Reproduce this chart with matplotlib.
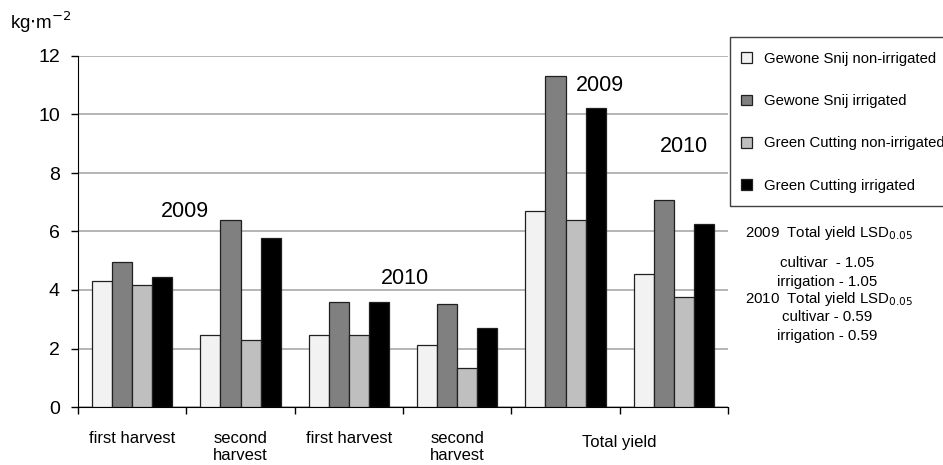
import numpy as np
import matplotlib.pyplot as plt
from matplotlib.ticker import FixedLocator
from matplotlib.patches import Rectangle

plt.rcParams['font.family'] = ['Liberation Sans', 'DejaVu Sans']

# data (kg m-2)
categories = ['first harvest', 'second\nharvest', 'first harvest', 'second\nharvest', '', '']
series_names = ['Gewone Snij non-irrigated', 'Gewone Snij irrigated',
                'Green Cutting non-irrigated', 'Green Cutting irrigated']
gs_nonirr = [4.30, 2.45, 2.45, 2.12, 6.70, 4.53]
gs_irr = [4.96, 6.38, 3.60, 3.52, 11.32, 7.08]
gc_nonirr = [4.18, 2.28, 2.45, 1.33, 6.38, 3.77]
gc_irr = [4.46, 5.78, 3.60, 2.70, 10.21, 6.27]
colors = ['#f2f2f2', '#808080', '#bfbfbf', '#000000']

series = [gs_nonirr, gs_irr, gc_nonirr, gc_irr]

fig = plt.figure(figsize=(9.43, 4.65), dpi=100)
ax = fig.add_axes([78/943, 1-407/465, 650/943, 351/465])

x = np.arange(len(categories))
w = 0.185
for i, vals in enumerate(series):
    ax.bar(x + (i - 1.5)*w, vals, width=w, color=colors[i], edgecolor='#202020',
           linewidth=0.9, label=series_names[i], zorder=3)

ax.set_xlim(-0.5, 5.5)
ax.set_ylim(0, 12)
ax.set_yticks(range(0, 13, 2))
ax.yaxis.grid(True, color='#b0b0b0', linewidth=1.3, zorder=0)
for s in ['top', 'right']:
    ax.spines[s].set_visible(False)
ax.spines['left'].set_color('black')
ax.spines['bottom'].set_color('black')
ax.tick_params(axis='y', labelsize=14, length=5, width=1, pad=8)

ax.set_xticks(x[:4])
ax.set_xticklabels(categories[:4], fontsize=12, va='top')
ax.xaxis.set_minor_locator(FixedLocator(np.arange(-0.5, 6, 1)))
ax.tick_params(axis='x', which='major', length=0, pad=17)
ax.tick_params(axis='x', which='minor', length=5, width=1)
ax.text(4.5, -1.2, 'Total yield', ha='center', va='center', fontsize=12)

# year annotations
ax.text(0.49, 6.67, '2009', ha='center', va='center', fontsize=15.5)
ax.text(2.52, 4.4, '2010', ha='center', va='center', fontsize=15.5)
ax.text(4.32, 11.0, '2009', ha='center', va='center', fontsize=15.5)
ax.text(5.09, 8.9, '2010', ha='center', va='center', fontsize=15.5)

fig.text(10/943, 1-22/465, 'kg$\\cdot$m$^{-2}$', fontsize=13.5, va='center')

# legend box (runs off the right edge, as in the original)
fig.patches.append(Rectangle((730/943, 1-206/465), 240/943, 169/465,
                             transform=fig.transFigure, fill=False,
                             edgecolor='#404040', linewidth=1.0))
leg = ax.legend(loc='upper left', bbox_to_anchor=(741/943, 1-52/465),
                bbox_transform=fig.transFigure, fontsize=10.7, frameon=False,
                handlelength=0.75, handleheight=0.75, handletextpad=0.8,
                labelspacing=1.9, borderpad=0, borderaxespad=0)

# LSD notes
fs = 10.8
cx = 827/943
fig.text(745/943, 1-233/465, '2009  Total yield LSD$_{\\mathrm{0.05}}$', fontsize=fs, va='center')
fig.text(cx, 1-263/465, 'cultivar  - 1.05', fontsize=fs, va='center', ha='center')
fig.text(cx, 1-282/465, 'irrigation - 1.05', fontsize=fs, va='center', ha='center')
fig.text(745/943, 1-299/465, '2010  Total yield LSD$_{\\mathrm{0.05}}$', fontsize=fs, va='center')
fig.text(cx, 1-317/465, 'cultivar - 0.59', fontsize=fs, va='center', ha='center')
fig.text(cx, 1-336/465, 'irrigation - 0.59', fontsize=fs, va='center', ha='center')

fig.savefig('out.png', dpi=100)
